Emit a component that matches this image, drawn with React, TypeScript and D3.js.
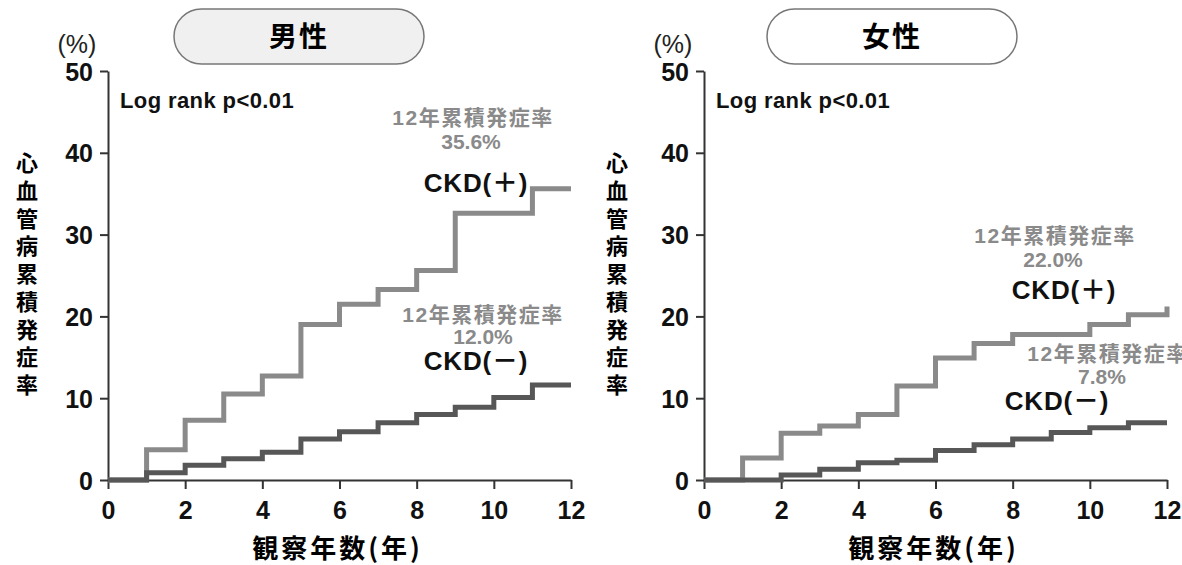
import React, { useEffect, useRef } from 'react'
import * as d3 from 'd3'

// cumulative incidence (%) at the start of each year, step-after
const years = [0, 1, 2, 3, 4, 5, 6, 7, 8, 9, 10, 11, 12]
const maleCkdPlus = [0, 3.7, 7.3, 10.5, 12.7, 19.0, 21.5, 23.3, 25.6, 32.6, 32.6, 35.6, 35.6]
const maleCkdMinus = [0, 0.9, 1.8, 2.6, 3.4, 5.0, 5.9, 7.0, 8.0, 8.9, 10.1, 11.6, 11.6]
const femaleCkdPlus = [0, 2.7, 5.7, 6.6, 8.0, 11.5, 14.9, 16.7, 17.8, 17.8, 19.0, 20.2, 21.2]
const femaleCkdMinus = [0, 0, 0.6, 1.3, 2.1, 2.4, 3.6, 4.3, 5.0, 5.8, 6.4, 7.0, 7.0]

const xTicks = [0, 2, 4, 6, 8, 10, 12]
const yTicks = [0, 10, 20, 30, 40, 50]
const yTitle = '心血管病累積発症率'
const xTitle = '観察年数(年)'
const unitLabel = '(%)'
const logRankText = 'Log rank p<0.01'
const cumLabel = '12年累積発症率'
const maleRates = ['35.6%', '12.0%']
const femaleRates = ['22.0%', '7.8%']
const groupLabels = ['CKD(＋)', 'CKD(－)']

const latin = "'Liberation Sans', Arial, 'Noto Sans CJK JP', sans-serif"
const cjk = "'Noto Sans CJK JP', sans-serif"
const plusColor = '#8a8a8a'
const minusColor = '#575757'
const axisColor = '#333'

const panels = [
  {
    title: '男性',
    left: 108,
    right: 571,
    pillX: 174,
    pillFill: '#f0f0f0',
    yTitleX: 27,
    plus: maleCkdPlus,
    minus: maleCkdMinus,
    rates: maleRates,
    // label anchors (centre x, baseline y): cum text, rate, CKD label
    plusLabel: [473, 125, 471, 149, 476, 192],
    minusLabel: [483, 322, 483, 344, 476, 370],
  },
  {
    title: '女性',
    left: 704,
    right: 1167,
    pillX: 767,
    pillFill: '#ffffff',
    yTitleX: 617,
    plus: femaleCkdPlus,
    minus: femaleCkdMinus,
    rates: femaleRates,
    plusLabel: [1055, 243, 1053, 267, 1064, 299],
    minusLabel: [1108, 361, 1102, 384, 1057, 410],
  },
]

const App = () => {
  const svgRef = useRef(null)

  useEffect(() => {
    const svg = d3.select(svgRef.current)
    svg.selectAll('*').remove()

    panels.forEach((p) => {
      const x = d3.scaleLinear().domain([0, 12]).range([p.left, p.right])
      const y = d3.scaleLinear().domain([0, 50]).range([480, 71])
      const g = svg.append('g')

      // title pill
      g.append('rect')
        .attr('x', p.pillX)
        .attr('y', 9)
        .attr('width', 250)
        .attr('height', 55)
        .attr('rx', 27.5)
        .attr('fill', p.pillFill)
        .attr('stroke', '#777')
        .attr('stroke-width', 1.5)
      g.append('text')
        .attr('x', p.pillX + 125)
        .attr('y', 47)
        .attr('text-anchor', 'middle')
        .style('font-family', cjk)
        .style('font-size', '28px')
        .style('font-weight', 'bold')
        .style('letter-spacing', '2px')
        .text(p.title)

      // axes
      const yAxis = d3.axisLeft(y).tickValues(yTicks).tickSize(8).tickSizeOuter(0).tickPadding(7)
      const gy = g.append('g').attr('transform', `translate(${p.left},0)`).call(yAxis)
      const xAxis = d3.axisBottom(x).tickValues(xTicks).tickSize(9).tickSizeOuter(0).tickPadding(12)
      const gx = g.append('g').attr('transform', `translate(0,${y(0)})`).call(xAxis)
      ;[gx, gy].forEach((a) => {
        a.select('.domain').attr('stroke', axisColor).attr('stroke-width', 2)
        a.selectAll('.tick line').attr('stroke', axisColor).attr('stroke-width', 2)
        a.selectAll('.tick text')
          .attr('fill', '#111')
          .style('font-family', latin)
          .style('font-size', '25px')
          .style('font-weight', 'bold')
      })
      gy.selectAll('.tick text').attr('dy', '0.36em')
      gx.selectAll('.tick text').attr('dy', '0.72em')

      // unit + axis titles
      g.append('text')
        .attr('x', p.left - 31)
        .attr('y', 53)
        .attr('text-anchor', 'middle')
        .style('font-family', latin)
        .style('font-size', '25px')
        .attr('fill', '#222')
        .text(unitLabel)
      g.append('text')
        .attr('x', p.yTitleX)
        .attr('y', 152)
        .style('writing-mode', 'vertical-rl')
        .style('font-family', cjk)
        .style('font-size', '22px')
        .style('font-weight', 'bold')
        .style('letter-spacing', '5.7px')
        .text(yTitle)
      g.append('text')
        .attr('x', (p.left + p.right) / 2 - 2)
        .attr('y', 558)
        .attr('text-anchor', 'middle')
        .style('font-family', cjk)
        .style('font-size', '26px')
        .style('font-weight', 'bold')
        .style('letter-spacing', '3px')
        .text(xTitle)

      // step curves
      const line = d3
        .line<number>()
        .x((d, i) => x(years[i]))
        .y((d) => y(d))
        .curve(d3.curveStepAfter)
      g.append('path')
        .attr('d', line(p.plus))
        .attr('fill', 'none')
        .attr('stroke', plusColor)
        .attr('stroke-width', 5)
      g.append('path')
        .attr('d', line(p.minus))
        .attr('fill', 'none')
        .attr('stroke', minusColor)
        .attr('stroke-width', 5)

      // annotations
      g.append('text')
        .attr('x', p.left + 12)
        .attr('y', 108)
        .style('font-family', latin)
        .style('font-size', '22px')
        .style('letter-spacing', '0.4px')
        .style('font-weight', 'bold')
        .attr('fill', '#111')
        .text(logRankText)

      const labels = [
        [p.plusLabel, p.rates[0], groupLabels[0]],
        [p.minusLabel, p.rates[1], groupLabels[1]],
      ] as const
      labels.forEach(([pos, rate, group]) => {
        g.append('text')
          .attr('x', pos[0])
          .attr('y', pos[1])
          .attr('text-anchor', 'middle')
          .style('font-family', latin)
          .style('font-size', '21px')
          .style('font-weight', 'bold')
          .style('letter-spacing', '1.5px')
          .attr('fill', plusColor)
          .text(cumLabel)
        g.append('text')
          .attr('x', pos[2])
          .attr('y', pos[3])
          .attr('text-anchor', 'middle')
          .style('font-family', latin)
          .style('font-size', '21px')
          .style('font-weight', 'bold')
          .attr('fill', plusColor)
          .text(rate)
        g.append('text')
          .attr('x', pos[4])
          .attr('y', pos[5])
          .attr('text-anchor', 'middle')
          .style('font-family', latin)
          .style('font-size', '26px')
          .style('font-weight', 'bold')
          .style('letter-spacing', '0.8px')
          .attr('fill', '#111')
          .text(group)
      })
    })
  }, [])

  return (
    <div style={{ position: 'absolute', left: 0, top: 0, width: 1182, height: 565, background: '#fff' }}>
      <svg ref={svgRef} width={1182} height={565} style={{ display: 'block' }} />
    </div>
  )
}

export default App
